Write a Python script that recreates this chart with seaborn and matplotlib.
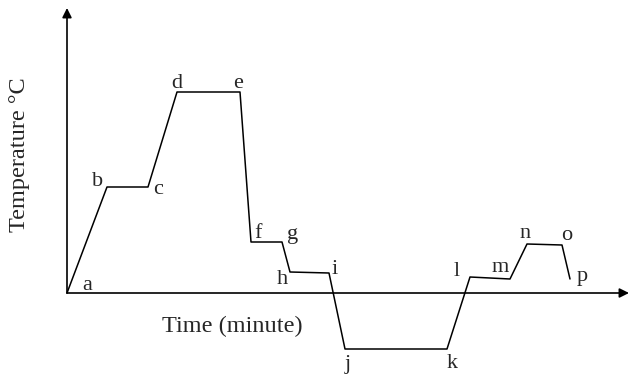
import numpy as np
import pandas as pd
import matplotlib
matplotlib.use('Agg')
import matplotlib.pyplot as plt
import seaborn as sns

# points of the cooling/heating curve
labels = ['a', 'b', 'c', 'd', 'e', 'f', 'g', 'h', 'i', 'j', 'k', 'l', 'm', 'n', 'o', 'p']
time = [0, 40, 81, 110, 173, 184, 215, 223, 262, 278, 380, 403, 443, 460, 495, 503]
temp = [0, 106, 106, 201, 201, 51, 51, 21, 20, -56, -56, 16, 14, 49, 48, 14]

# where each letter sits (offset from its point)
label_offset = {
    'a': (20, 8), 'b': (-9, 6), 'c': (10, -3), 'd': (0, 9), 'e': (-2, 9),
    'f': (7, 8), 'g': (11, 8), 'h': (-8, -8), 'i': (6, 3), 'j': (3, -15),
    'k': (5, -15), 'l': (-13, 5), 'm': (-10, 11), 'n': (-2, 11), 'o': (5, 10),
    'p': (12, 2),
}

df = pd.DataFrame({'time': time, 'temp': temp, 'label': labels})

sns.set_style('white')
plt.rcParams['font.family'] = ['Liberation Serif', 'DejaVu Serif']

fig = plt.figure(figsize=(6.29, 3.76), dpi=100)
ax = fig.add_axes([0, 0, 1, 1])
ax.set_xlim(-67, 562)
ax.set_ylim(-83, 293)
ax.axis('off')

# axes with arrow heads
ax.annotate('', xy=(562, 0), xytext=(0, 0),
            arrowprops=dict(arrowstyle='-|>', color='black', lw=1.2,
                            mutation_scale=14, shrinkA=0, shrinkB=0))
ax.annotate('', xy=(0, 285), xytext=(0, 0),
            arrowprops=dict(arrowstyle='-|>', color='black', lw=1.2,
                            mutation_scale=14, shrinkA=0, shrinkB=0))

sns.lineplot(data=df, x='time', y='temp', sort=False, estimator=None,
             color='black', linewidth=1.1, ax=ax)

for lab, t, y in zip(labels, time, temp):
    dx, dy = label_offset[lab]
    ax.text(t + dx, y + dy, lab, fontsize=16, ha='center', va='center')

fig.text(232 / 629, 1 - 326 / 376, 'Time (minute)', fontsize=17.5,
         ha='center', va='center')
fig.text(20 / 629, 1 - 155 / 376, 'Temperature °C', fontsize=17.5,
         ha='center', va='center', rotation=90)

fig.savefig('out.png', dpi=100)
